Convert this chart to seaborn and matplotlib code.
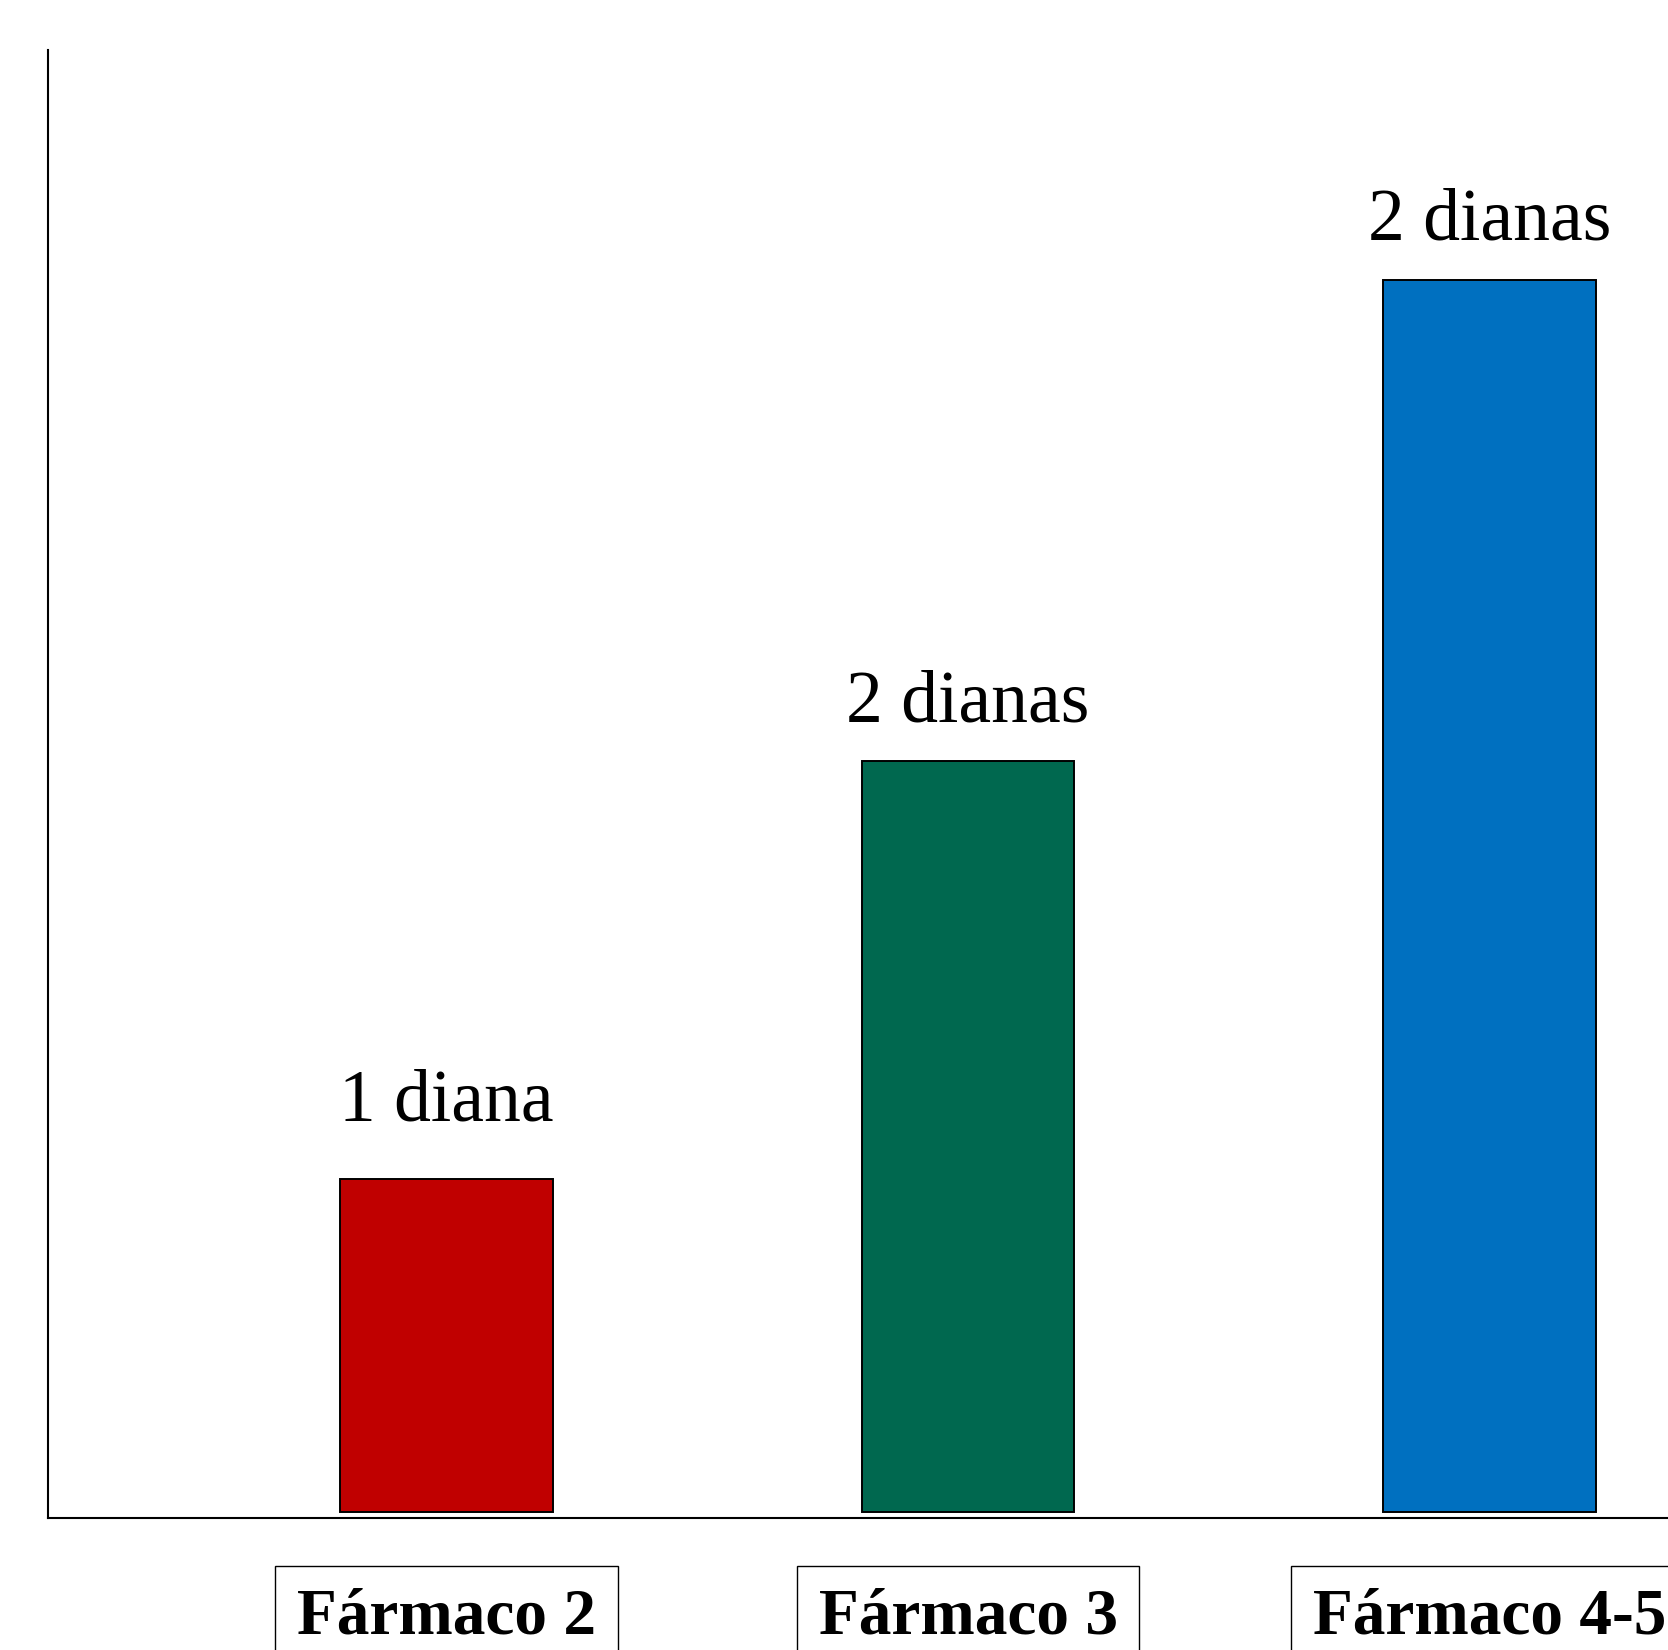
import matplotlib
matplotlib.use("Agg")
import matplotlib.pyplot as plt
import seaborn as sns
import pandas as pd

# Datos del gráfico
farmacos = ["Fármaco 2", "Fármaco 3", "Fármaco 4-5"]
valores = [27, 61, 100]
etiquetas = ["1 diana", "2 dianas", "2 dianas"]
colores = ["#C00000", "#00684F", "#0070C0"]

sns.set_theme(style="white")
plt.rcParams["font.family"] = ["Liberation Serif", "DejaVu Serif"]
plt.rcParams["text.color"] = "black"
plt.rcParams["xtick.color"] = "black"

df = pd.DataFrame({"farmaco": farmacos, "valor": valores})

fig = plt.figure(figsize=(16.68, 16.5), dpi=100)
ax = fig.add_axes([0.0288, 0.08, 0.9712, 0.89])

sns.barplot(data=df, x="farmaco", y="valor", hue="farmaco", palette=colores,
            legend=False, width=0.407, edgecolor="black", linewidth=1.4,
            saturation=1, ax=ax)

# Etiquetas encima de las barras (separación distinta en cada barra)
separacion = [31, 17, 18]
for cont, lab, sep in zip(ax.containers, etiquetas, separacion):
    ax.bar_label(cont, labels=[lab], padding=sep, fontsize=53, color="black")

ax.set_xlim(-0.764, 2.342)
ax.set_ylim(-0.49, 118.75)

ax.set_xlabel("")
ax.set_ylabel("")
ax.set_yticks([])
ax.tick_params(axis="x", length=0, pad=50, labelcolor="black")
for t in ax.get_xticklabels():
    t.set_fontsize(47)
    t.set_fontweight("bold")
    t.set_bbox(dict(facecolor="white", edgecolor="black", linewidth=1, boxstyle="square,pad=0.33"))

sns.despine(ax=ax, top=True, right=True)
ax.spines["left"].set_linewidth(1.5)
ax.spines["bottom"].set_linewidth(1.5)
ax.spines["left"].set_color("black")
ax.spines["bottom"].set_color("black")

plt.savefig("out.png", dpi=100)
plt.close()
